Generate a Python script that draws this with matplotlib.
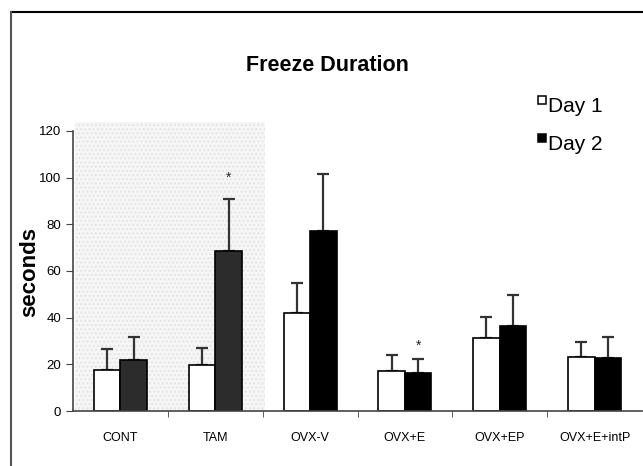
import matplotlib
matplotlib.use("Agg")
import matplotlib.pyplot as plt
from matplotlib.patches import Rectangle
from matplotlib.lines import Line2D
import numpy as np

plt.rcParams["font.family"] = ["Liberation Sans", "DejaVu Sans"]

# ---------------------------------------------------------------------------
# data
# ---------------------------------------------------------------------------
groups = ["CONT", "TAM", "OVX-V", "OVX+E", "OVX+EP", "OVX+E+intP"]
day1 = [17.6, 19.5, 42.0, 17.3, 31.4, 23.2]
day1_err = [9.0, 7.5, 13.0, 6.6, 9.0, 6.4]
day2 = [22.0, 68.5, 77.0, 16.4, 36.3, 22.8]
day2_err = [9.5, 22.5, 24.5, 5.8, 13.2, 9.0]
legend_labels = ["Day 1", "Day 2"]
star_groups = [1, 3]
star_heights = [100, 28]

W, H = 643, 466


def fx(px):
    return px / W


def fy(py):
    return 1 - py / H


# ---------------------------------------------------------------------------
# figure
# ---------------------------------------------------------------------------
fig = plt.figure(figsize=(6.43, 4.66), dpi=100)
ax = fig.add_axes([fx(73), fy(411), 569 / W, 291.7 / H])

x = np.arange(len(groups))
w = 0.28

# shaded block behind the first two groups
ax.axvspan(-0.48, 1.52, ymin=0, ymax=124 / 125, facecolor="#f6f6f6",
           edgecolor="#e4e4e4", hatch="....", linewidth=0, zorder=0)

dark = ["#2c2c2c", "#2c2c2c", "black", "black", "black", "black"]
ax.bar(x - w / 2, day1, w, color="white", edgecolor="black", linewidth=1.2, zorder=2)
ax.bar(x + w / 2, day2, w, color=dark, edgecolor="black", linewidth=1.2, zorder=2)

ax.errorbar(x - w / 2, day1, yerr=[np.zeros(len(day1)), day1_err], fmt="none",
            ecolor="#333333", elinewidth=1.6, capsize=4, capthick=1.6, zorder=1)
ax.errorbar(x + w / 2, day2, yerr=[np.zeros(len(day2)), day2_err], fmt="none",
            ecolor="#333333", elinewidth=1.6, capsize=4, capthick=1.6, zorder=1)

for g, h in zip(star_groups, star_heights):
    ax.text(g + w / 2, h, "*", ha="center", va="center", fontsize=10, color="#222222")

ax.set_xlim(-0.5, len(groups) - 0.5)
ax.set_ylim(0, 125)
ax.set_yticks(np.arange(0, 121, 20))
ax.spines["left"].set_bounds(0, 120)
for s in ("top", "right"):
    ax.spines[s].set_visible(False)
for s in ("left", "bottom"):
    ax.spines[s].set_color("#444444")
    ax.spines[s].set_linewidth(1.2)

ax.set_xticks(x)
ax.set_xticklabels(groups, fontsize=9)
ax.tick_params(axis="x", length=0, pad=15)
ax.set_xticks(np.arange(0.5, len(groups) - 0.5, 1), minor=True)
ax.tick_params(axis="x", which="minor", length=4, color="#444444", direction="out")
ax.tick_params(axis="y", length=5, color="#444444", labelsize=9.5)

ax.set_ylabel("seconds", fontsize=16, fontweight="bold")
ax.yaxis.set_label_coords(-0.058, 0.477)

fig.text(0.509, 0.86, "Freeze Duration", ha="center", va="center",
         fontsize=15.5, fontweight="bold")

# legend drawn by hand: small squares aligned to the cap height
for i, (lab, col) in enumerate(zip(legend_labels, ["white", "black"])):
    top = 96 + i * 38
    fig.add_artist(Rectangle((fx(538), fy(top + 8)), 8 / W, 8 / H,
                             facecolor=col, edgecolor="black", linewidth=1.1,
                             transform=fig.transFigure))
    fig.text(fx(548), fy(top + 16), lab, ha="left", va="baseline", fontsize=15)

# outer frame lines of the original figure
fig.add_artist(Line2D([fx(11), 1], [fy(12), fy(12)], color="black", lw=1.5))
fig.add_artist(Line2D([fx(11), fx(11)], [0, fy(12)], color="#555555", lw=1.5))

fig.savefig("out.png", dpi=100)
